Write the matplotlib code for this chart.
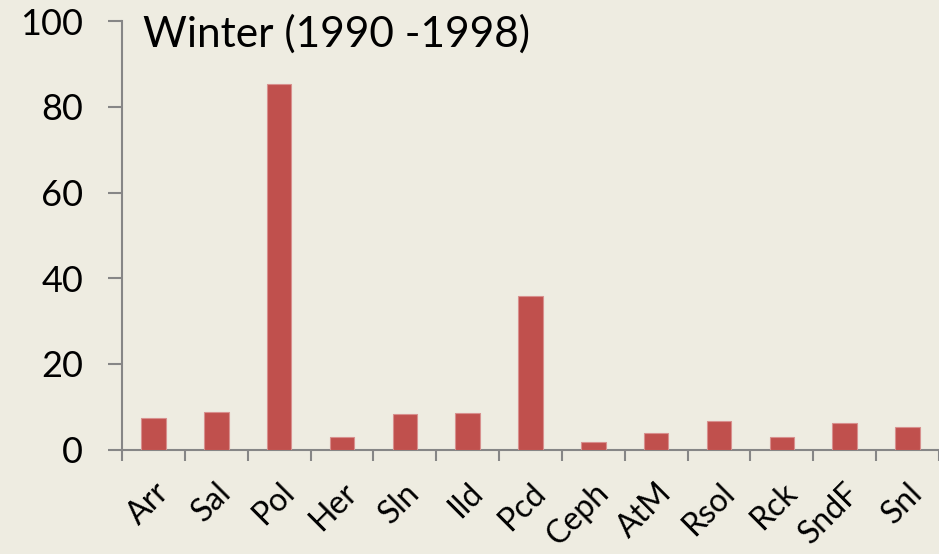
import matplotlib
matplotlib.use("Agg")
import matplotlib.pyplot as plt
import matplotlib.transforms as mtransforms
import numpy as np

categories = ["Arr", "Sal", "Pol", "Her", "Sln", "Ild", "Pcd", "Ceph", "AtM", "Rsol", "Rck", "SndF", "Snl"]
values = [7.5, 8.7, 85.4, 3.0, 8.3, 8.5, 35.8, 1.8, 3.9, 6.7, 3.0, 6.2, 5.3]
yticks = [0, 20, 40, 60, 80, 100]
title = "Winter (1990 -1998)"

plt.rcParams['font.family'] = ['Lato', 'DejaVu Sans']
bg = "#EEECE1"
fig = plt.figure(figsize=(9.39, 5.54), dpi=100, facecolor=bg)
ax = fig.add_axes([0.1299, 0.1883, 0.8701, 0.7737])
ax.set_facecolor(bg)

x = np.arange(len(categories))
ax.bar(x, values, width=0.39, color="#C0504D", edgecolor="#D8908E", linewidth=0.8, zorder=3)

ax.set_xlim(-0.5, len(categories) - 0.5)
ax.set_ylim(0, 100)
ax.set_yticks(yticks)
ax.set_yticklabels([str(t) for t in yticks], fontsize=26)
ax.set_xticks(np.arange(len(categories) + 1) - 0.5)
ax.set_xticklabels([])
ax.set_xticks(x, minor=True)
labels = ax.set_xticklabels(categories, minor=True, rotation=45, ha='right', va='top',
                            rotation_mode='anchor', fontsize=23)
offset = mtransforms.ScaledTranslation(-5 / 100, -3 / 100, fig.dpi_scale_trans)
for lab in labels:
    lab.set_transform(lab.get_transform() + offset)

for s in ["top", "right"]:
    ax.spines[s].set_visible(False)
for s in ["left", "bottom"]:
    ax.spines[s].set_color("#868686")
    ax.spines[s].set_linewidth(1.5)

ax.tick_params(axis='y', which='major', length=10, width=1.5, color="#868686", pad=18)
ax.tick_params(axis='x', which='major', length=8, width=1.5, color="#868686")
ax.tick_params(axis='x', which='minor', length=0, pad=20)

fig.text(0.152, 0.938, title, fontsize=30.5, ha='left', va='center')

fig.savefig("out.png", dpi=100, facecolor=bg)
